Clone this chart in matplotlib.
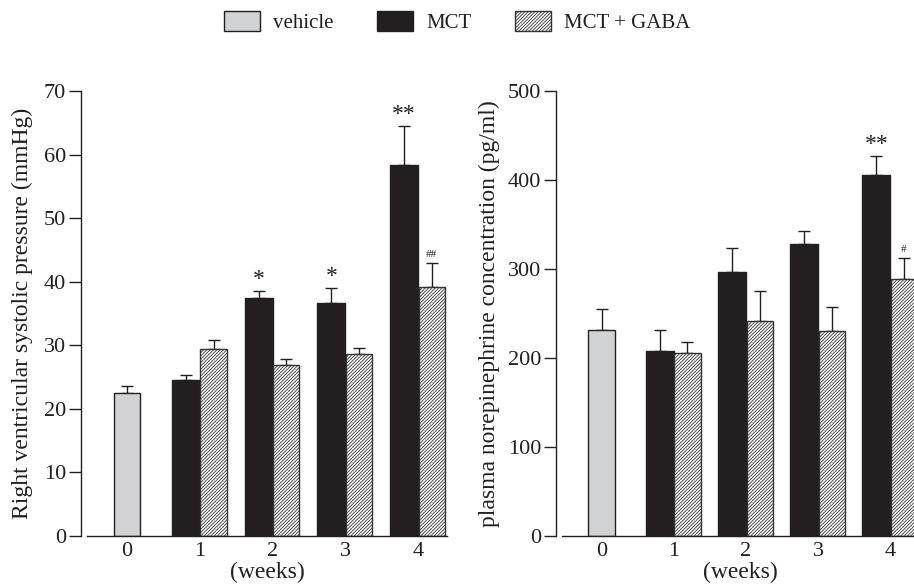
import matplotlib
matplotlib.use("Agg")
import numpy as np
from matplotlib import pyplot as plt
from matplotlib.patches import Patch

plt.rcParams['font.family'] = ['Liberation Serif', 'DejaVu Serif']
plt.rcParams['hatch.linewidth'] = 0.6

INK = '#231f20'
GREY = '#d1d2d4'

weeks = [0, 1, 2, 3, 4]
week_labels = ['0', '1', '2', '3', '4']

# right ventricular systolic pressure (mmHg)
rvsp_vehicle = [22.5]
rvsp_vehicle_err = [1.1]
rvsp_mct = [24.5, 37.4, 36.6, 58.3]
rvsp_mct_err = [0.8, 1.1, 2.4, 6.2]
rvsp_gaba = [29.4, 26.9, 28.6, 39.1]
rvsp_gaba_err = [1.4, 0.9, 0.9, 3.8]
rvsp_mct_marks = ['', '*', '*', '**']
rvsp_gaba_marks = ['', '', '', '##']

# plasma norepinephrine (pg/ml)
ne_vehicle = [231]
ne_vehicle_err = [24]
ne_mct = [208, 297, 328, 406]
ne_mct_err = [23, 27, 15, 21]
ne_gaba = [206, 242, 230, 289]
ne_gaba_err = [12, 33, 27, 23]
ne_mct_marks = ['', '', '', '**']
ne_gaba_marks = ['', '', '', '#']

W = 0.38
HATCH = '//////////'
err_kw = dict(ecolor=INK, elinewidth=1.0, capsize=4, capthick=1.0)


def draw_panel(ax, veh, veh_err, mct, mct_err, gaba, gaba_err, mct_marks, gaba_marks, ymax, step, ylabel):
    x = np.array(weeks[1:])
    ax.bar([0], veh, W * 0.97, color=GREY, edgecolor=INK, linewidth=1.0, zorder=2)
    ax.errorbar([0], veh, yerr=[[0], veh_err], fmt='none', zorder=1, **err_kw)
    ax.bar(x - W / 2, mct, W * 1.02, color=INK, edgecolor=INK, linewidth=1.0, zorder=2)
    ax.errorbar(x - W / 2, mct, yerr=[np.zeros(4), mct_err], fmt='none', zorder=1, **err_kw)
    ax.bar(x + W / 2, gaba, W * 0.95, color='white', edgecolor='#333333', hatch=HATCH,
           linewidth=1.0, zorder=2)
    ax.errorbar(x + W / 2, gaba, yerr=[np.zeros(4), gaba_err], fmt='none', zorder=1, **err_kw)

    for xi, v, e, m in zip(x - W / 2, mct, mct_err, mct_marks):
        if m:
            ax.annotate(m, (xi, v + e), xytext=(0, 1), textcoords='offset points',
                        ha='center', va='bottom', fontsize=17, color=INK)
    for xi, v, e, m in zip(x + W / 2, gaba, gaba_err, gaba_marks):
        if m:
            ax.annotate(m, (xi, v + e), xytext=(0, 3), textcoords='offset points',
                        ha='center', va='bottom', fontsize=8, color=INK)

    ax.set_xlim(-0.55, 4.4)
    ax.set_ylim(0, ymax)
    ax.set_yticks(np.arange(0, ymax + 1, step))
    ax.set_xticks(weeks)
    ax.set_xticklabels(week_labels)
    ax.tick_params(axis='x', length=0, pad=4, labelsize=16, colors=INK)
    ax.tick_params(axis='y', length=9, width=1.0, pad=2, labelsize=16, colors=INK)
    ax.spines['top'].set_visible(False)
    ax.spines['right'].set_visible(False)
    ax.spines['left'].set_position(('outward', 4))
    for s in ('left', 'bottom'):
        ax.spines[s].set_color(INK)
        ax.spines[s].set_linewidth(1.0)
    ax.set_xlabel('(weeks)', fontsize=17, color=INK, labelpad=1)
    ax.set_ylabel(ylabel, fontsize=17, color=INK)


fig = plt.figure(figsize=(9.14, 5.87), dpi=100)
ax1 = fig.add_axes([87 / 914, 51 / 587, 360 / 914, 445 / 587])
ax2 = fig.add_axes([562 / 914, 51 / 587, 357 / 914, 445 / 587])

draw_panel(ax1, rvsp_vehicle, rvsp_vehicle_err, rvsp_mct, rvsp_mct_err, rvsp_gaba, rvsp_gaba_err,
           rvsp_mct_marks, rvsp_gaba_marks, 70, 10, 'Right ventricular systolic pressure (mmHg)')
draw_panel(ax2, ne_vehicle, ne_vehicle_err, ne_mct, ne_mct_err, ne_gaba, ne_gaba_err,
           ne_mct_marks, ne_gaba_marks, 500, 100, 'plasma norepinephrine concentration (pg/ml)')
ax1.yaxis.set_label_coords(-0.15, 0.5)
ax2.yaxis.set_label_coords(-0.174, 0.5)

handles = [
    Patch(facecolor=GREY, edgecolor=INK, linewidth=1.0, label='vehicle'),
    Patch(facecolor=INK, edgecolor=INK, linewidth=1.0, label='MCT'),
    Patch(facecolor='white', edgecolor='#333333', hatch=HATCH, linewidth=1.0, label='MCT + GABA'),
]
fig.legend(handles=handles, loc='center', bbox_to_anchor=(0.5, 0.962), ncol=3, frameon=False,
           fontsize=15, handlelength=1.75, handleheight=1.1, handletextpad=0.6, columnspacing=2.1,
           labelcolor=INK)

fig.savefig('out.png', dpi=100)
